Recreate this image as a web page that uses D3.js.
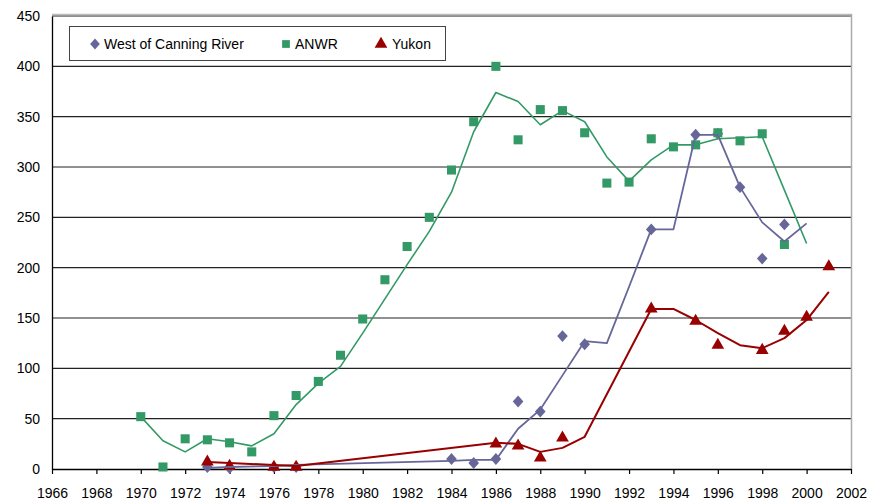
<!DOCTYPE html>
<html>
<head>
<meta charset="utf-8">
<script src="https://cdn.jsdelivr.net/npm/d3@7"></script>
<style>
  html, body { margin: 0; padding: 0; background: #fff; }
  svg { display: block; font-family: "Liberation Sans", Arial, sans-serif; }
</style>
</head>
<body>
<svg id="chart" width="880" height="502"></svg>
<script>
// ---- data ----
const xTicks = [1966,1968,1970,1972,1974,1976,1978,1980,1982,1984,1986,1988,1990,1992,1994,1996,1998,2000,2002];
const yTicks = [0,50,100,150,200,250,300,350,400,450];

const anwrYears  = [1970,1971,1972,1973,1974,1975,1976,1977,1978,1979,1980,1981,1982,1983,1984,1985,1986,1987,1988,1989,1990,1991,1992,1993,1994,1995,1996,1997,1998,1999];
const anwrValues = [52,2,30,29,26,17,53,73,87,113,149,188,221,250,297,345,400,327,357,356,334,284,285,328,320,322,334,326,333,223];
const anwrTrendYears  = [1970,1971,1972,1973,1974,1975,1976,1977,1978,1979,1980,1981,1982,1983,1984,1985,1986,1987,1988,1989,1990,1991,1992,1993,1994,1995,1996,1997,1998,1999,2000];
const anwrTrendValues = [52,28,17,30,27,23,35,64,85,102,135,169,203,236,275,335,374,365,342,356,345,310,286,307,322,322,328,329,330,277,224];

const westYears  = [1973,1974,1976,1977,1984,1985,1986,1987,1988,1989,1990,1993,1995,1996,1997,1998,1999];
const westValues = [2,1,2,2,10,6,10,67,57,132,124,238,332,333,280,209,243];
const westTrendYears  = [1973,1974,1976,1977,1984,1985,1986,1987,1988,1989,1990,1991,1992,1993,1994,1995,1996,1997,1998,1999,2000];
const westTrendValues = [1,2,3,4,8,9,9,40,59,93,127,125,181,238,238,332,332,280,245,226,244];

const yukonYears  = [1973,1974,1976,1977,1986,1987,1988,1989,1993,1995,1996,1998,1999,2000,2001];
const yukonValues = [7,3,2,2,25,23,11,31,159,147,123,118,137,151,201];
const yukonTrendYears  = [1973,1974,1976,1977,1986,1987,1988,1989,1990,1993,1994,1995,1996,1997,1998,1999,2000,2001];
const yukonTrendValues = [7,6,4,3,26,25,17,21,32,159,159,148,135,123,120,130,148,176];

const seriesNames = ["West of Canning River","ANWR","Yukon"];

// ---- layout ----
const svg = d3.select("#chart");
const m = {left: 52, top: 16, right: 851, bottom: 469};
const x = d3.scaleLinear().domain([1966, 2002]).range([m.left, m.right]);
const y = d3.scaleLinear().domain([0, 450]).range([m.bottom, m.top]);

const cGreen = "#339966", cBlue = "#666699", cRed = "#990000";

// gridlines
svg.append("g").selectAll("line").data(yTicks.filter(d => d > 0)).join("line")
  .attr("x1", m.left).attr("x2", m.right)
  .attr("y1", d => y(d)).attr("y2", d => y(d))
  .attr("stroke", "#222").attr("stroke-width", 1.2);

// top & right border
svg.append("line").attr("x1", m.left).attr("x2", m.right + 1).attr("y1", m.top - 1.5).attr("y2", m.top - 1.5)
  .attr("stroke", "#bbb").attr("stroke-width", 1.5);
svg.append("line").attr("x1", m.right + 0.5).attr("x2", m.right + 0.5).attr("y1", m.top - 2).attr("y2", m.bottom)
  .attr("stroke", "#aaa").attr("stroke-width", 1.5);

// axes
const xAxis = d3.axisBottom(x).tickValues(xTicks).tickFormat(d3.format("d")).tickSizeOuter(0).tickSizeInner(5).tickPadding(14);
const gx = svg.append("g").attr("transform", `translate(0,${m.bottom})`).call(xAxis);
gx.select(".domain").attr("stroke", "#000").attr("stroke-width", 1.3);
gx.selectAll(".tick line").attr("stroke", "#000").attr("stroke-width", 1.2);
gx.selectAll("text").attr("font-size", 14).attr("fill", "#000").attr("font-family", "Liberation Sans, Arial, sans-serif");

const yAxis = d3.axisLeft(y).tickValues(yTicks).tickFormat(d3.format("d")).tickSize(0).tickPadding(12);
const gy = svg.append("g").attr("transform", `translate(${m.left},0)`).call(yAxis);
gy.select(".domain").attr("stroke", "#000").attr("stroke-width", 1.3);
gy.selectAll("text").attr("font-size", 14).attr("fill", "#000").attr("font-family", "Liberation Sans, Arial, sans-serif");

// trend lines
const line = d3.line().x(d => x(d[0])).y(d => y(d[1]));
function drawLine(years, vals, color, w) {
  svg.append("path").datum(d3.zip(years, vals))
    .attr("d", line).attr("fill", "none").attr("stroke", color)
    .attr("stroke-width", w).attr("stroke-linejoin", "round");
}

// markers
const sq = d3.symbol().type(d3.symbolSquare).size(82);
const dia = d3.symbol().type(d3.symbolDiamond2 || d3.symbolDiamond).size(72);
const tri = d3.symbol().type(d3.symbolTriangle).size(70);

function drawMarkers(years, vals, sym, color, sy) {
  svg.append("g").selectAll("path").data(d3.zip(years, vals)).join("path")
    .attr("d", sym)
    .attr("transform", d => `translate(${x(d[0])},${y(d[1])}) scale(1,${sy || 1})`)
    .attr("fill", color);
}

drawMarkers(westYears, westValues, dia, cBlue, 1.12);
drawMarkers(anwrYears, anwrValues, sq, cGreen);
drawMarkers(yukonYears, yukonValues, tri, cRed);

drawLine(anwrTrendYears, anwrTrendValues, cGreen, 1.6);
drawLine(westTrendYears, westTrendValues, cBlue, 1.8);
drawLine(yukonTrendYears, yukonTrendValues, cRed, 2);

// legend
const lg = svg.append("g");
lg.append("rect").attr("x", 69.5).attr("y", 26.5).attr("width", 376).attr("height", 34)
  .attr("fill", "#fff").attr("stroke", "#444").attr("stroke-width", 1);
const legendItems = [
  {name: seriesNames[0], color: cBlue, sym: d3.symbol().type(d3.symbolDiamond2 || d3.symbolDiamond).size(60), sy: 1.15, mx: 95, tx: 104},
  {name: seriesNames[1], color: cGreen, sym: d3.symbol().type(d3.symbolSquare).size(60), sy: 1, mx: 286, tx: 295},
  {name: seriesNames[2], color: cRed, sym: d3.symbol().type(d3.symbolTriangle).size(70), sy: 1, mx: 381, tx: 392}
];
legendItems.forEach(it => {
  lg.append("path").attr("d", it.sym).attr("fill", it.color).attr("transform", `translate(${it.mx},44) scale(1,${it.sy})`);
  lg.append("text").attr("x", it.tx).attr("y", 48.5).attr("font-size", 14).attr("fill", "#000").text(it.name);
});
</script>
</body>
</html>
